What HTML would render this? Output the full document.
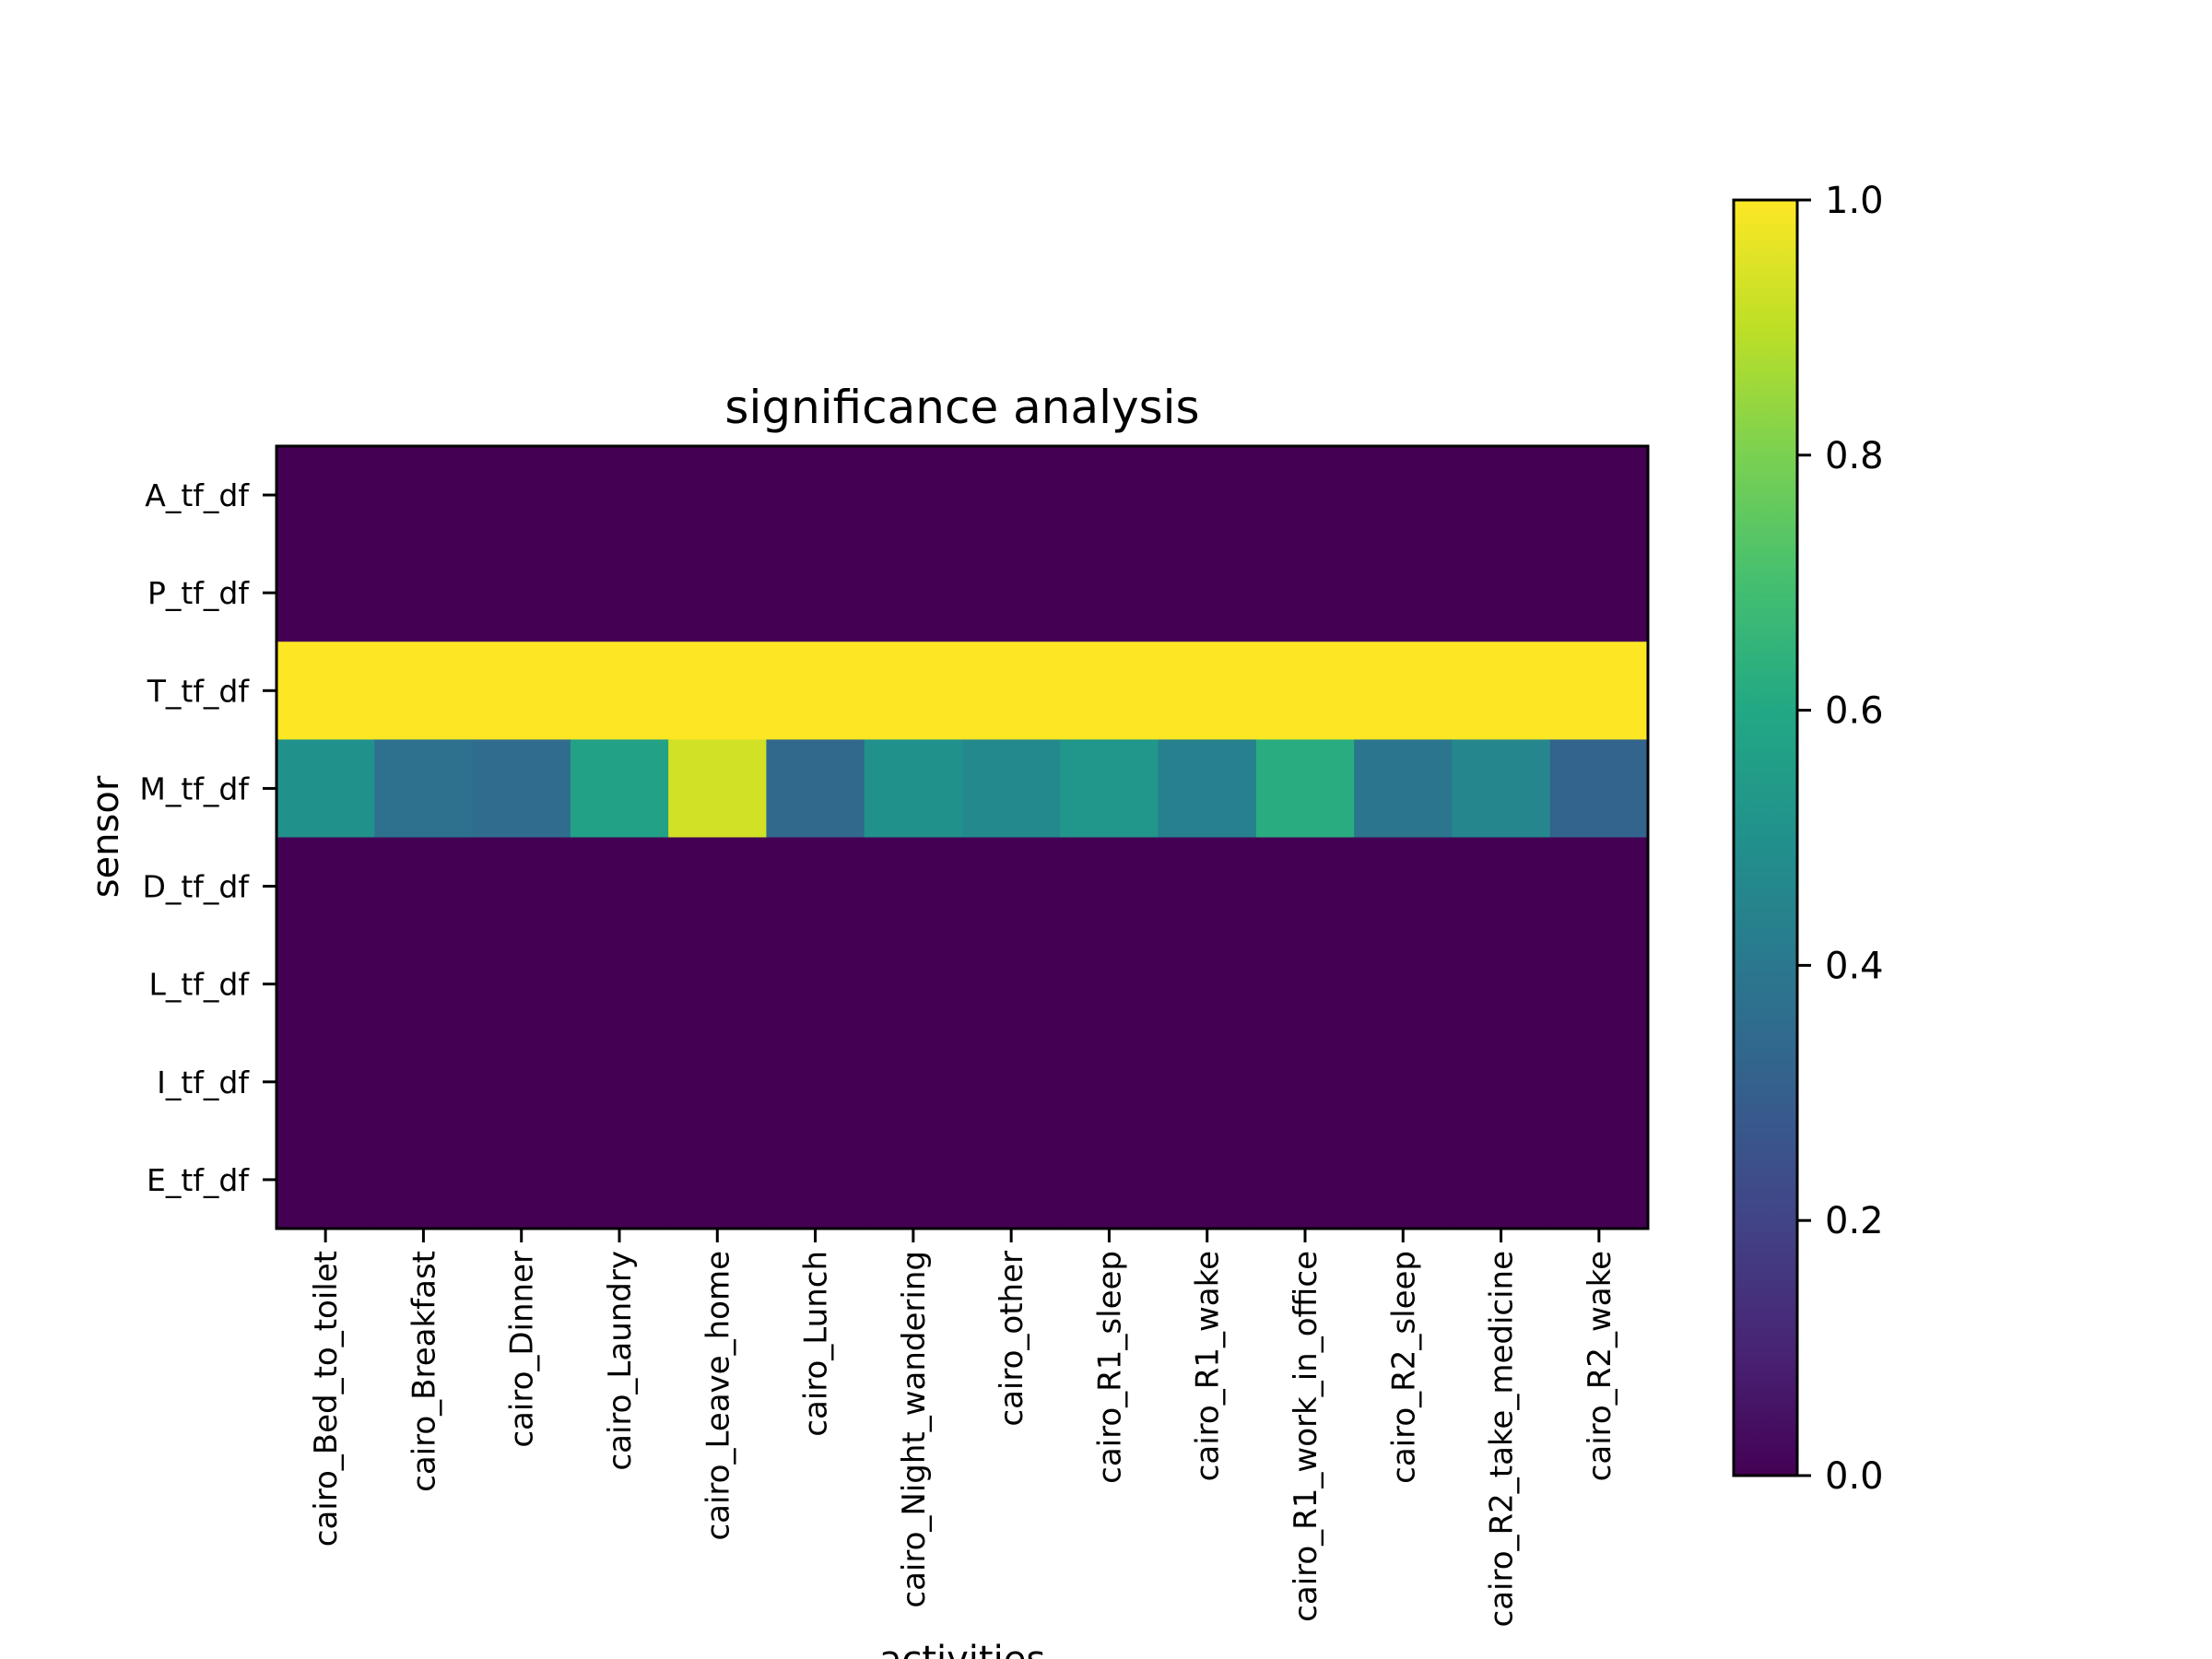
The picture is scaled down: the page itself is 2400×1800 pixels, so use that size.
<!DOCTYPE html>
<html><head><meta charset="utf-8"><style>
html,body{margin:0;padding:0;background:#fff;}
svg{display:block;font-family:"DejaVu Sans","Liberation Sans",sans-serif;}
</style></head><body>
<svg id="chart" width="2400" height="1800" viewBox="0 0 2400 1800" xmlns="http://www.w3.org/2000/svg">
<defs>
<linearGradient id="vir" x1="0" y1="1" x2="0" y2="0">
<stop offset="0" stop-color="#440154"/><stop offset="0.1" stop-color="#482475"/><stop offset="0.2" stop-color="#414487"/><stop offset="0.3" stop-color="#355f8d"/><stop offset="0.4" stop-color="#2a788e"/><stop offset="0.5" stop-color="#21918c"/><stop offset="0.6" stop-color="#22a884"/><stop offset="0.7" stop-color="#44bf70"/><stop offset="0.8" stop-color="#7ad151"/><stop offset="0.9" stop-color="#bddf26"/><stop offset="1" stop-color="#fde725"/>
</linearGradient>
</defs>
<rect width="2400" height="1800" fill="#fff"/>
<g id="cells"></g>
<g id="axes"></g>
<text x="1044" y="459" font-size="50" text-anchor="middle">significance analysis</text>
<text transform="translate(128,908) rotate(-90)" font-size="40" text-anchor="middle">sensor</text>
<text x="1044" y="1814" font-size="40" text-anchor="middle">activities</text>
<rect x="1881" y="217" width="69" height="1384" fill="url(#vir)" stroke="#000" stroke-width="3"/>
<g id="cbar"></g>
</svg>
<script>
const activities = ["cairo_Bed_to_toilet","cairo_Breakfast","cairo_Dinner","cairo_Laundry","cairo_Leave_home","cairo_Lunch","cairo_Night_wandering","cairo_other","cairo_R1_sleep","cairo_R1_wake","cairo_R1_work_in_office","cairo_R2_sleep","cairo_R2_take_medicine","cairo_R2_wake"];
const sensors = ["A_tf_df","P_tf_df","T_tf_df","M_tf_df","D_tf_df","L_tf_df","I_tf_df","E_tf_df"];
const rowA = [0,0,0,0,0,0,0,0,0,0,0,0,0,0];
const rowP = [0,0,0,0,0,0,0,0,0,0,0,0,0,0];
const rowT = [1,1,1,1,1,1,1,1,1,1,1,1,1,1];
const rowM = [0.5,0.37,0.35,0.57,0.93,0.34,0.5,0.47,0.52,0.43,0.62,0.39,0.46,0.32];
const rowD = [0,0,0,0,0,0,0,0,0,0,0,0,0,0];
const rowL = [0,0,0,0,0,0,0,0,0,0,0,0,0,0];
const rowI = [0,0,0,0,0,0,0,0,0,0,0,0,0,0];
const rowE = [0,0,0,0,0,0,0,0,0,0,0,0,0,0];
const colorbarTicks = ["0.0","0.2","0.4","0.6","0.8","1.0"];

const matrix = [rowA,rowP,rowT,rowM,rowD,rowL,rowI,rowE];
const NS="http://www.w3.org/2000/svg";
const L=300,R=1788,T=484,B=1333;
const cw=(R-L)/activities.length, ch=(B-T)/sensors.length;
const xPos=i=>L+i*cw, yPos=j=>T+j*ch;
const stops=[[68,1,84],[72,36,117],[65,68,135],[53,95,141],[42,120,142],[33,145,140],[34,168,132],[68,191,112],[122,209,81],[189,223,38],[253,231,37]];
function viridis(v){v=Math.max(0,Math.min(1,v));const p=v*10,i=Math.min(9,Math.floor(p)),f=p-i;const a=stops[i],b=stops[i+1];return `rgb(${a.map((c,k)=>Math.round(c+(b[k]-c)*f)).join(",")})`;}
function el(t,attrs,parent){const e=document.createElementNS(NS,t);for(const k in attrs)e.setAttribute(k,attrs[k]);parent.appendChild(e);return e;}
const cells=document.getElementById('cells');
matrix.forEach((row,j)=>row.forEach((v,i)=>{
  const r=el('rect',{x:xPos(i),y:yPos(j),width:cw+0.6,height:ch+0.6,fill:viridis(v)},cells);
  
  
}));
const axes=document.getElementById('axes');
const frame=el('rect',{x:L,y:T,width:R-L,height:B-T,fill:'none',stroke:'#000','stroke-width':3},axes);


sensors.forEach((s,j)=>{
  const y=yPos(j)+ch/2;
  el('line',{x1:L-15,x2:L,y1:y,y2:y,stroke:'#000','stroke-width':3},axes);
  const t=el('text',{x:L-30,y:y+12,'font-size':33,'text-anchor':'end'},axes);
  t.textContent=s;
  
  
});
activities.forEach((a,i)=>{
  const x=xPos(i)+cw/2;
  el('line',{x1:x,x2:x,y1:B,y2:B+15,stroke:'#000','stroke-width':3},axes);
  const t=el('text',{transform:`translate(${x+12},${B+24}) rotate(-90)`,'font-size':34,'text-anchor':'end'},axes);
  t.textContent=a;
  
  
});
const cb=document.getElementById('cbar');
colorbarTicks.forEach((lab,k)=>{
  const v=parseFloat(lab);const y=1601-v*(1601-217);
  el('line',{x1:1950,x2:1965,y1:y,y2:y,stroke:'#000','stroke-width':3},cb);
  const t=el('text',{x:1980,y:y+14,'font-size':40},cb);
  t.textContent=lab;
  
  
});
</script>
</body></html>
